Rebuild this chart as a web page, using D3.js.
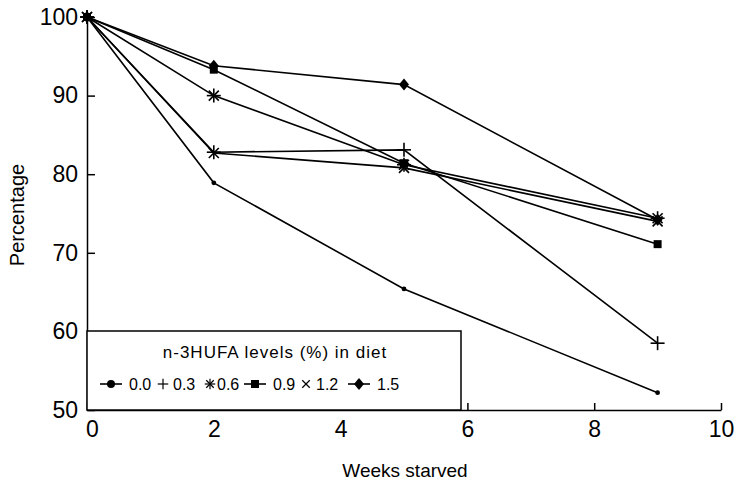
<!DOCTYPE html>
<html>
<head>
<meta charset="utf-8">
<script src="https://cdn.jsdelivr.net/npm/d3@7"></script>
<style>
  body { margin: 0; background: #fff; }
  svg text { font-family: "Liberation Sans", Arial, sans-serif; fill: #000; }
</style>
</head>
<body>
<div id="chart"></div>
<script>
// dataset
const weeks = [0, 2, 5, 9];
const levels = ["0.0", "0.3", "0.6", "0.9", "1.2", "1.5"];
const s00 = [100, 78.9, 65.4, 52.2];
const s03 = [100, 82.8, 83.1, 58.5];
const s06 = [100, 90.0, 81.2, 74.4];
const s09 = [100, 93.3, 81.4, 71.1];
const s12 = [100, 82.7, 80.8, 74.0];
const s15 = [100, 93.8, 91.4, 74.2];
const markers = ["dot", "plus", "aster", "square", "cross", "diamond"];
const xTicks = [0, 2, 4, 6, 8, 10];
const yTicks = [50, 60, 70, 80, 90, 100];

const width = 734, height = 484;
const svg = d3.select("#chart").append("svg")
    .attr("width", width).attr("height", height);

const x = d3.scaleLinear().domain([0, 10]).range([87, 721]);
const y = d3.scaleLinear().domain([50, 100]).range([410, 17]);

const series = [s00, s03, s06, s09, s12, s15].map((v, i) => ({
  name: levels[i], marker: markers[i],
  pts: v.map((d, j) => ({ w: weeks[j], v: d }))
}));

// marker drawing
function drawMarker(g, type, cx, cy, big) {
  const m = g.append("g").attr("transform", `translate(${cx},${cy})`);
  const k = big ? 0.75 : 1;
  const ln = (x1, y1, x2, y2) => m.append("line")
      .attr("x1", x1 * k).attr("y1", y1 * k).attr("x2", x2 * k).attr("y2", y2 * k)
      .attr("stroke", "#000").attr("stroke-width", big ? 1.2 : 1.6);
  if (type == "dot") {
    m.append("circle").attr("r", big ? 4 : 2.4).attr("fill", "#000");
  } else if (type == "square") {
    m.append("path").attr("d", d3.symbol(d3.symbolSquare, 64)()).attr("fill", "#000");
  } else if (type == "diamond") {
    m.append("path").attr("d", "M0,-6L5,0L0,6L-5,0Z").attr("fill", "#000");
  } else if (type == "plus") {
    ln(-7, 0, 7, 0); ln(0, -7, 0, 7);
  } else if (type == "cross") {
    ln(-5, -5, 5, 5); ln(-5, 5, 5, -5);
  } else if (type == "aster") {
    ln(-7, 0, 7, 0); ln(0, -7, 0, 7); ln(-5, -5, 5, 5); ln(-5, 5, 5, -5);
  }
}

// axes
const yAxis = d3.axisLeft(y).tickValues(yTicks).tickSize(-8).tickSizeOuter(0).tickPadding(9);
const xAxis = d3.axisBottom(x).tickValues(xTicks).tickSize(-7).tickSizeOuter(0).tickPadding(11);

const gy = svg.append("g").attr("transform", `translate(${x(0)},0)`).call(yAxis);
const gx = svg.append("g").attr("transform", `translate(0,${y(50)})`).call(xAxis);
[gx, gy].forEach(g => {
  g.selectAll("path, line").attr("stroke", "#000").attr("stroke-width", 1.5);
  g.selectAll("text").style("font-size", "23px");
});
gx.selectAll("text").attr("dx", d => d == 0 ? 5 : 0);

svg.append("text").attr("x", 405).attr("y", 477).attr("text-anchor", "middle")
    .style("font-size", "19px").text("Weeks starved");
svg.append("text").attr("transform", "translate(24,215) rotate(-90)")
    .attr("text-anchor", "middle").style("font-size", "20px").text("Percentage");

// lines
const line = d3.line().x(d => x(d.w)).y(d => y(d.v));
const plot = svg.append("g");
series.forEach(s => {
  plot.append("path").datum(s.pts).attr("d", line)
      .attr("fill", "none").attr("stroke", "#000").attr("stroke-width", 1.6);
});
series.forEach(s => {
  s.pts.forEach(p => drawMarker(plot, s.marker, x(p.w), y(p.v), false));
});

// legend
const lg = svg.append("g");
lg.append("rect").attr("x", x(0)).attr("y", 331).attr("width", 461 - x(0)).attr("height", y(50) - 331)
    .attr("fill", "#fff").attr("stroke", "#000").attr("stroke-width", 1.5);
lg.append("text").attr("x", 275).attr("y", 358).attr("text-anchor", "middle")
    .style("font-size", "17px").style("letter-spacing", "1px").text("n-3HUFA levels (%) in diet");

const legendX = [111, 163, 210, 255, 306, 359];
const legendLine = [true, false, false, true, false, true];
series.forEach((s, i) => {
  const cx = legendX[i];
  if (legendLine[i]) {
    lg.append("line").attr("x1", cx - 11).attr("x2", cx + 11).attr("y1", 384).attr("y2", 384)
        .attr("stroke", "#000").attr("stroke-width", 1.6);
  }
  drawMarker(lg, s.marker, cx, 384, true);
  lg.append("text").attr("x", cx + (legendLine[i] ? 18 : (s.marker == "aster" ? 7 : 10)))
      .attr("y", 390).style("font-size", "16px").text(s.name);
});
</script>
</body>
</html>
